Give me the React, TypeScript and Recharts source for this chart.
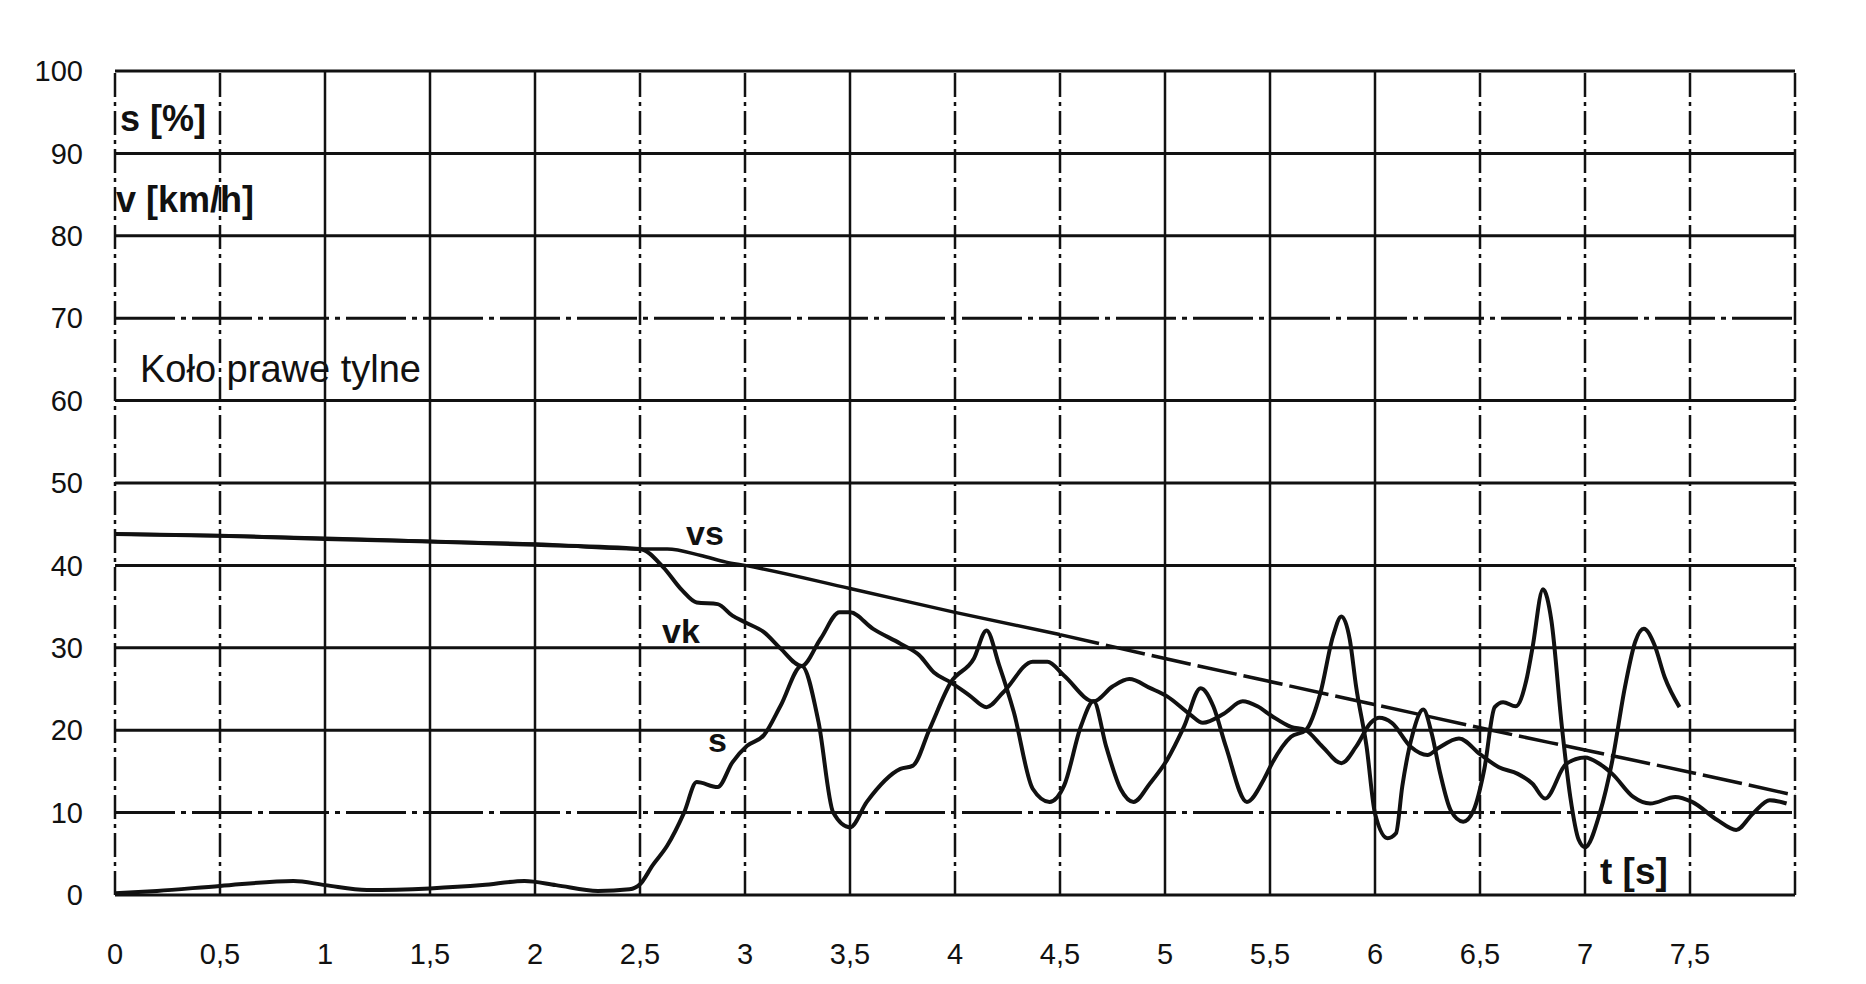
import React from "react"
import { LineChart, Line, XAxis, YAxis, ReferenceLine } from "recharts"

// time axis [s]
const X_TICKS = [0, 0.5, 1, 1.5, 2, 2.5, 3, 3.5, 4, 4.5, 5, 5.5, 6, 6.5, 7, 7.5]
const Y_TICKS = [0, 10, 20, 30, 40, 50, 60, 70, 80, 90, 100]

// vs - vehicle speed, solid part then dashed part
const vsT = [0, 0.5, 1, 1.5, 2, 2.5, 2.63, 2.79, 2.91, 3, 3.5, 4, 4.5]
const vsV = [43.8, 43.6, 43.3, 42.9, 42.6, 42.0, 42.0, 41.2, 40.4, 40.0, 37.2, 34.3, 31.6]
const vsDashT = [4.5, 5, 5.5, 6, 6.5, 7, 7.5, 8]
const vsDashV = [31.6, 28.7, 25.9, 23.1, 20.3, 17.6, 14.9, 12.1]

// vk - wheel speed
const vkT = [
  0, 0.5, 1, 1.5, 2, 2.5, 2.61, 2.7, 2.77, 2.87, 2.94, 3, 3.09, 3.17, 3.27, 3.36, 3.45, 3.5,
  3.61, 3.74, 3.83, 3.9, 3.98, 4.07, 4.15, 4.23, 4.37, 4.44, 4.52, 4.66, 4.75, 4.83, 4.93,
  5.01, 5.12, 5.18, 5.28, 5.37, 5.44, 5.51, 5.6, 5.67, 5.75, 5.84, 5.91, 5.98, 6.02, 6.08,
  6.17, 6.25, 6.3, 6.4, 6.5, 6.59, 6.68, 6.75, 6.81, 6.91, 7, 7.07, 7.13, 7.23, 7.31, 7.43,
  7.51, 7.63, 7.72, 7.8, 7.88, 7.96,
]
const vkV = [
  43.8, 43.6, 43.2, 42.9, 42.5, 42.0, 39.8, 37.0, 35.5, 35.3, 33.9, 33.1, 31.9, 29.9, 27.8,
  31.1, 34.3, 34.3, 32.3, 30.5, 29.1, 27.0, 25.8, 24.2, 22.8, 24.6, 28.3, 28.3, 26.6, 23.5,
  25.3, 26.2, 25.1, 24.1, 21.9, 20.9, 22.0, 23.5, 22.9, 21.7, 20.4, 20.0, 18.0, 16.0, 18.0,
  20.9, 21.5, 20.9, 18.0, 17.0, 17.8, 19.0, 17.1, 15.5, 14.7, 13.5, 11.7, 15.9, 16.7, 15.9,
  14.7, 11.9, 11.1, 11.9, 11.3, 9.1, 7.9, 9.9, 11.5, 11.1,
]

// s - slip [%]
const sT = [
  0, 0.2, 0.5, 0.85, 1, 1.2, 1.5, 1.75, 1.95, 2.1, 2.3, 2.45, 2.5, 2.56, 2.63, 2.71, 2.77,
  2.87, 2.94, 3.01, 3.09, 3.17, 3.27, 3.35, 3.42, 3.5, 3.58, 3.74, 3.8, 3.88, 3.98, 4.09,
  4.15, 4.21, 4.28, 4.37, 4.45, 4.52, 4.6, 4.66, 4.72, 4.79, 4.85, 4.93, 5.01, 5.09, 5.17,
  5.23, 5.29, 5.39, 5.47, 5.51, 5.6, 5.67, 5.74, 5.8, 5.84, 5.88, 5.91, 5.96, 6, 6.06, 6.1,
  6.13, 6.18, 6.23, 6.27, 6.31, 6.36, 6.42, 6.47, 6.52, 6.57, 6.61, 6.67, 6.72, 6.75, 6.8,
  6.84, 6.89, 6.93, 6.97, 7, 7.07, 7.13, 7.19, 7.24, 7.28, 7.33, 7.38, 7.45,
]
const sV = [
  0.2, 0.5, 1.1, 1.7, 1.2, 0.6, 0.8, 1.2, 1.7, 1.2, 0.5, 0.7, 1.3, 3.6, 6.0, 10.0, 13.7, 13.1,
  16.1, 18.1, 19.4, 23.0, 27.8, 21.0, 10.0, 8.2, 11.3, 15.3, 15.7, 20.2, 25.8, 28.7, 32.1,
  27.9, 22.2, 12.9, 11.3, 13.3, 20.5, 23.5, 18.0, 12.8, 11.3, 13.6, 16.4, 20.4, 25.1, 22.9,
  18.0, 11.3, 14.0, 16.0, 19.2, 20.0, 24.5, 31.4, 33.8, 31.0, 25.3, 18.0, 9.9, 6.9, 7.5,
  13.2, 19.6, 22.5, 19.6, 14.8, 10.3, 8.9, 10.3, 15.2, 22.8, 23.4, 22.9, 26.0, 30.0, 37.1,
  33.3, 20.4, 11.9, 6.7, 5.8, 9.9, 16.3, 25.2, 30.8, 32.3, 30.4, 26.4, 22.8,
]

const GRID_X = [0, 0.5, 1, 1.5, 2, 2.5, 3, 3.5, 4, 4.5, 5, 5.5, 6, 6.5, 7, 7.5, 8]
const DASHED_X = [0, 0.5, 2.5, 3, 4, 4.5, 6.5, 7, 7.5, 8]
const DASHED_Y = [10, 70]

const zip = (t: number[], v: number[]) => t.map((x, i) => ({ t: x, v: v[i] }))

const FONT = "'Liberation Sans', Arial, sans-serif"
const INK = "#111"

function Label({ x, y, size, bold, children }: { x: number; y: number; size: number; bold?: boolean; children: React.ReactNode }) {
  return (
    <div
      style={{
        position: "absolute",
        left: x,
        top: y - size / 2,
        fontSize: size,
        lineHeight: 1,
        fontFamily: FONT,
        fontWeight: bold ? 700 : 400,
        color: INK,
        whiteSpace: "nowrap",
      }}
    >
      {children}
    </div>
  )
}

export default function App() {
  const vsData = zip(vsT, vsV)
  const vsDashData = zip(vsDashT, vsDashV)
  const vkData = zip(vkT, vkV)
  const sData = zip(sT, sV)

  const tick = { fill: INK, fontSize: 29, fontFamily: FONT }

  return (
    <div style={{ position: "absolute", left: 0, top: 0, width: 1866, height: 984, background: "#fff" }}>
      <LineChart width={1866} height={984} margin={{ top: 71, right: 71, bottom: 29, left: 45 }}>
        <XAxis
          type="number"
          dataKey="t"
          domain={[0, 8]}
          ticks={X_TICKS}
          allowDuplicatedCategory={false}
          axisLine={false}
          tickLine={false}
          tickMargin={42}
          height={60}
          tick={tick}
          tickFormatter={(v: number) => String(v).replace(".", ",")}
        />
        <YAxis
          type="number"
          domain={[0, 100]}
          ticks={Y_TICKS}
          axisLine={false}
          tickLine={false}
          tickMargin={26}
          width={70}
          tick={tick}
        />
        {Y_TICKS.map((y) => (
          <ReferenceLine
            key={"h" + y}
            y={y}
            stroke={INK}
            strokeWidth={3}
            strokeDasharray={DASHED_Y.includes(y) ? "60 6 5 6" : undefined}
          />
        ))}
        {GRID_X.map((x) => (
          <ReferenceLine
            key={"v" + x}
            x={x}
            stroke={INK}
            strokeWidth={2.5}
            strokeDasharray={DASHED_X.includes(x) ? "24 5 4 5" : undefined}
          />
        ))}
        <Line data={vsData} dataKey="v" type="monotone" stroke={INK} strokeWidth={3.5} dot={false} isAnimationActive={false} />
        <Line data={vsDashData} dataKey="v" type="monotone" stroke={INK} strokeWidth={3.5} strokeDasharray="40 7" dot={false} isAnimationActive={false} />
        <Line data={vkData} dataKey="v" type="monotone" stroke={INK} strokeWidth={4} dot={false} isAnimationActive={false} />
        <Line data={sData} dataKey="v" type="monotone" stroke={INK} strokeWidth={4} dot={false} isAnimationActive={false} />
      </LineChart>
      <Label x={120} y={119} size={36} bold>s [%]</Label>
      <Label x={116} y={200} size={36} bold>v [km/h]</Label>
      <Label x={140} y={369} size={38}>Koło prawe tylne</Label>
      <Label x={686} y={533} size={34} bold>vs</Label>
      <Label x={662} y={631} size={34} bold>vk</Label>
      <Label x={708} y={740} size={34} bold>s</Label>
      <Label x={1600} y={871} size={37} bold>t [s]</Label>
    </div>
  )
}
